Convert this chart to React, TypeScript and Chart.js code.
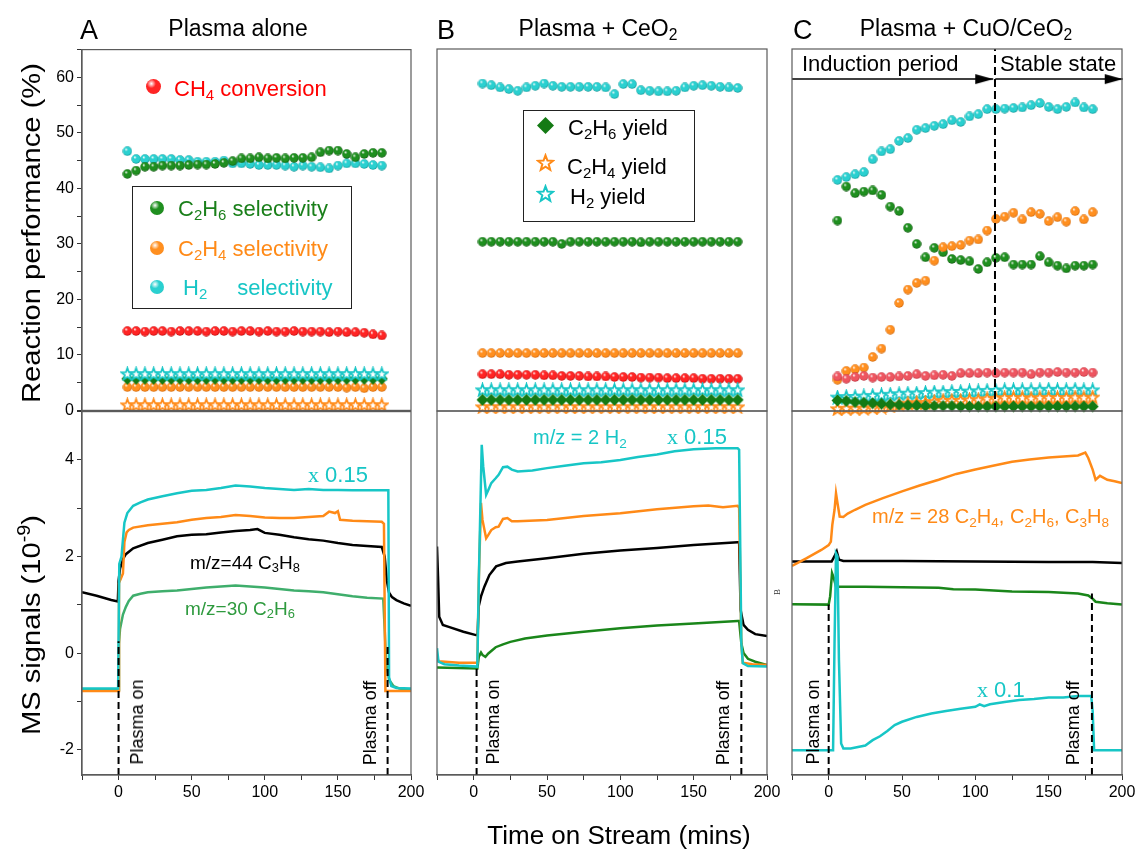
import React, { useEffect, useRef } from 'react';
import { Chart, registerables } from 'chart.js';

Chart.register(...registerables);

const FONT = '"Liberation Sans", Arial, Helvetica, sans-serif';
const SERIF = '"Liberation Serif", "Times New Roman", serif';

// ---------------- axes ----------------
const X_MIN = -25;
const X_MAX = 200;
const X_TICK_LABELS = [0, 50, 100, 150, 200];
const TOP_Y_MIN = 0;
const TOP_Y_MAX = 65;
const TOP_TICK_LABELS = [0, 10, 20, 30, 40, 50, 60];
const MS_Y_MIN = -2.52;
const MS_Y_MAX = 5;
const MS_TICK_LABELS = [-2, 0, 2, 4];

// ---------------- top panels (reaction performance) ----------------
const T_TOP = [6, 12, 18, 24, 30, 36, 42, 48, 54, 60, 66, 72, 78, 84, 90, 96, 102, 108, 114, 120, 126, 132, 138, 144, 150, 156, 162, 168, 174, 180];

// A: plasma alone
const A_CH4_CONV = [14.3, 14.3, 14.2, 14.3, 14.3, 14.2, 14.3, 14.3, 14.3, 14.2, 14.3, 14.3, 14.2, 14.3, 14.3, 14.2, 14.3, 14.2, 14.2, 14.3, 14.2, 14.2, 14.2, 14.1, 14.2, 14.1, 14.1, 14.0, 13.7, 13.5];
const A_H2_SEL = [46.7, 45.3, 45.3, 45.3, 45.3, 45.3, 45.1, 45.1, 44.8, 44.8, 44.8, 45.0, 44.5, 44.5, 44.4, 44.2, 44.2, 44.2, 44.1, 43.9, 44.1, 43.9, 43.8, 43.6, 44.1, 44.5, 44.5, 44.4, 44.2, 44.1];
const A_C2H6_SEL = [42.6, 43.2, 43.9, 43.9, 44.1, 44.1, 44.1, 44.2, 44.3, 44.3, 44.4, 44.6, 44.9, 45.4, 45.4, 45.6, 45.4, 45.5, 45.4, 45.5, 45.5, 45.6, 46.5, 46.8, 46.8, 46.2, 45.6, 46.2, 46.4, 46.4];
const A_C2H4_SEL = [4.2, 4.2, 4.2, 4.2, 4.2, 4.2, 4.2, 4.2, 4.2, 4.2, 4.2, 4.2, 4.2, 4.2, 4.2, 4.2, 4.2, 4.2, 4.2, 4.2, 4.2, 4.2, 4.2, 4.2, 4.2, 4.1, 4.2, 4.0, 4.2, 4.2];
const A_H2_YIELD = [6.6, 6.6, 6.6, 6.6, 6.6, 6.6, 6.6, 6.6, 6.6, 6.6, 6.6, 6.6, 6.6, 6.6, 6.6, 6.6, 6.6, 6.6, 6.6, 6.6, 6.6, 6.6, 6.6, 6.6, 6.6, 6.6, 6.6, 6.6, 6.6, 6.6];
const A_C2H6_YIELD = [5.7, 5.7, 5.7, 5.7, 5.7, 5.7, 5.7, 5.7, 5.7, 5.7, 5.7, 5.7, 5.7, 5.7, 5.7, 5.7, 5.7, 5.7, 5.7, 5.7, 5.7, 5.7, 5.7, 5.7, 5.7, 5.7, 5.7, 5.7, 5.7, 5.7];
const A_C2H4_YIELD = [1.0, 1.0, 1.0, 1.0, 1.0, 1.0, 1.0, 1.0, 1.0, 1.0, 1.0, 1.0, 1.0, 1.0, 1.0, 1.0, 1.0, 1.0, 1.0, 1.0, 1.0, 1.0, 1.0, 1.0, 1.0, 1.0, 1.0, 1.0, 1.0, 1.0];

// B: plasma + CeO2
const B_CH4_CONV = [6.6, 6.6, 6.6, 6.5, 6.5, 6.5, 6.5, 6.4, 6.4, 6.3, 6.3, 6.3, 6.2, 6.2, 6.2, 6.1, 6.1, 6.1, 6.0, 6.0, 6.0, 5.9, 5.9, 5.9, 5.9, 5.8, 5.8, 5.8, 5.8, 5.8];
const B_H2_SEL = [58.8, 58.5, 58.1, 57.8, 57.5, 58.1, 58.4, 58.8, 58.4, 58.2, 58.2, 58.2, 58.2, 58.2, 58.1, 56.9, 58.7, 58.7, 57.6, 57.5, 57.4, 57.4, 57.5, 58.1, 58.4, 58.5, 58.4, 58.2, 58.1, 58.0];
const B_C2H6_SEL = [30.4, 30.4, 30.4, 30.4, 30.4, 30.4, 30.4, 30.4, 30.4, 30.0, 30.4, 30.4, 30.4, 30.4, 30.4, 30.4, 30.4, 30.4, 30.3, 30.4, 30.4, 30.4, 30.4, 30.4, 30.4, 30.4, 30.4, 30.4, 30.4, 30.4];
const B_C2H4_SEL = [10.4, 10.4, 10.4, 10.4, 10.4, 10.4, 10.4, 10.4, 10.4, 10.4, 10.4, 10.4, 10.4, 10.4, 10.4, 10.4, 10.4, 10.4, 10.4, 10.4, 10.4, 10.4, 10.4, 10.4, 10.4, 10.4, 10.4, 10.4, 10.4, 10.4];
const B_H2_YIELD = [3.8, 3.8, 3.8, 3.8, 3.8, 3.8, 3.8, 3.8, 3.8, 3.8, 3.8, 3.8, 3.8, 3.8, 3.8, 3.8, 3.8, 3.8, 3.8, 3.8, 3.8, 3.8, 3.8, 3.8, 3.8, 3.8, 3.8, 3.8, 3.8, 3.8];
const B_C2H6_YIELD = [2.0, 2.0, 2.0, 2.0, 2.0, 2.0, 2.0, 2.0, 2.0, 2.0, 2.0, 2.0, 2.0, 2.0, 2.0, 2.0, 2.0, 2.0, 2.0, 2.0, 2.0, 2.0, 2.0, 2.0, 2.0, 2.0, 2.0, 2.0, 2.0, 2.0];
const B_C2H4_YIELD = [0.75, 0.75, 0.75, 0.75, 0.75, 0.75, 0.75, 0.75, 0.75, 0.75, 0.75, 0.75, 0.75, 0.75, 0.75, 0.75, 0.75, 0.75, 0.75, 0.75, 0.75, 0.75, 0.75, 0.75, 0.75, 0.75, 0.75, 0.75, 0.75, 0.75];

// C: plasma + CuO/CeO2
const C_CH4_CONV = [6.2, 5.8, 6.1, 6.3, 6.0, 6.1, 6.1, 6.2, 6.3, 6.6, 6.3, 6.4, 6.5, 6.3, 6.8, 6.8, 6.8, 6.9, 6.8, 6.9, 6.9, 6.9, 6.6, 6.9, 6.9, 7.0, 6.9, 6.9, 7.0, 6.9];
const C_H2_SEL = [41.5, 42.0, 42.5, 42.9, 45.2, 46.6, 47.0, 48.5, 49.0, 50.5, 50.8, 51.2, 51.5, 52.2, 51.9, 52.9, 53.3, 54.2, 54.2, 54.3, 54.4, 54.5, 54.9, 55.3, 54.6, 54.2, 54.6, 55.4, 54.5, 54.2];
const C_C2H6_SEL = [34.2, 40.3, 39.1, 39.4, 39.6, 38.8, 36.7, 35.9, 32.9, 30.0, 27.6, 29.3, 28.5, 27.3, 27.1, 26.9, 25.5, 26.7, 27.5, 27.6, 26.3, 26.3, 26.3, 27.8, 26.7, 26.1, 25.6, 26.1, 26.1, 26.3];
const C_C2H4_SEL = [5.6, 7.2, 7.5, 7.8, 9.7, 11.2, 14.6, 19.4, 21.8, 23.0, 23.4, 27.0, 29.4, 29.6, 29.8, 30.6, 30.8, 32.4, 34.5, 34.9, 35.6, 34.4, 35.7, 35.4, 34.1, 34.8, 34.0, 35.9, 34.4, 35.7];
const C_H2_YIELD = [2.5, 2.6, 2.6, 2.7, 2.8, 2.9, 3.0, 3.1, 3.2, 3.2, 3.3, 3.4, 3.4, 3.5, 3.5, 3.6, 3.6, 3.7, 3.7, 3.8, 3.8, 3.8, 3.8, 3.8, 3.9, 3.8, 3.8, 3.9, 3.8, 3.8];
const C_C2H4_YIELD = [0.4, 0.5, 0.5, 0.5, 0.6, 0.7, 0.9, 1.2, 1.4, 1.5, 1.5, 1.7, 1.9, 1.9, 1.9, 2.0, 2.0, 2.2, 2.3, 2.4, 2.4, 2.4, 2.3, 2.4, 2.4, 2.4, 2.4, 2.5, 2.4, 2.5];
const C_C2H6_YIELD = [1.9, 1.8, 1.6, 1.5, 1.4, 1.3, 1.2, 1.1, 1.0, 1.0, 0.9, 0.9, 0.9, 0.9, 0.8, 0.8, 0.8, 0.8, 0.8, 0.8, 0.8, 0.8, 0.8, 0.8, 0.8, 0.8, 0.8, 0.8, 0.8, 0.8];

// C: induction / stable separation and arrows
const C_SPLIT_T = 113.4;
const C_ARROW_Y = 59.6;
const C_ARROW1_X = [-25, 112.2];
const C_ARROW2_X = [113.6, 200.5];

// ---------------- bottom panels (MS signals) ----------------
const A_BLACK_T = [-25, -15, -5, -0.5, 0, 1, 3, 5, 10, 20, 30, 40, 50, 60, 70, 80, 90, 95, 100, 110, 120, 130, 140, 150, 160, 170, 180, 182, 183.5, 185, 187, 190, 195, 200];
const A_BLACK = [1.26, 1.19, 1.1, 1.07, 1.5, 1.75, 1.95, 2.05, 2.17, 2.28, 2.35, 2.42, 2.45, 2.46, 2.5, 2.53, 2.55, 2.57, 2.49, 2.45, 2.4, 2.36, 2.33, 2.28, 2.24, 2.22, 2.2, 2.0, 1.5, 1.25, 1.16, 1.1, 1.03, 0.98];
const A_CYAN_T = [-25, -0.3, 0.5, 2, 4, 6, 10, 15, 20, 30, 40, 50, 60, 70, 80, 90, 100, 110, 120, 130, 140, 150, 160, 170, 180, 184.5, 185, 186.5, 190, 200];
const A_CYAN = [-0.73, -0.73, 1.85, 2.0, 2.7, 2.9, 3.05, 3.12, 3.18, 3.25, 3.31, 3.36, 3.38, 3.42, 3.47, 3.45, 3.42, 3.4, 3.38, 3.4, 3.38, 3.38, 3.37, 3.37, 3.37, 3.37, -0.5, -0.68, -0.72, -0.73];
const A_ORANGE_T = [-25, -0.3, 0.3, 3, 4, 5.5, 7, 10, 20, 30, 40, 50, 60, 70, 80, 90, 100, 110, 120, 130, 140, 144, 148, 150, 151.5, 160, 170, 180, 181.5, 182.5, 190, 200];
const A_ORANGE = [-0.78, -0.78, 1.45, 1.65, 2.3, 2.5, 2.55, 2.6, 2.65, 2.68, 2.71, 2.76, 2.8, 2.82, 2.86, 2.84, 2.81, 2.8, 2.8, 2.82, 2.84, 2.93, 2.9, 2.94, 2.76, 2.74, 2.73, 2.72, 2.68, -0.78, -0.78, -0.78];
const A_GREEN_T = [-25, -0.3, 0.3, 1, 3, 5, 7, 10, 15, 20, 30, 40, 50, 60, 70, 80, 90, 100, 110, 120, 130, 140, 150, 160, 170, 181, 182, 183, 185, 188, 192, 200];
const A_GREEN = [-0.76, -0.76, 0.2, 0.5, 0.8, 0.96, 1.08, 1.19, 1.23, 1.26, 1.28, 1.3, 1.33, 1.36, 1.38, 1.4, 1.38, 1.36, 1.33, 1.3, 1.28, 1.26, 1.22, 1.18, 1.15, 1.13, 0.5, -0.2, -0.55, -0.68, -0.73, -0.76];
const A_PLASMA_X = [0, 184];
const A_PLASMA_TOP = [0.25, 0.15];

const B_BLACK_T = [-25, -24.3, -23.5, -21, -17, -7, 1.6, 2.7, 3.4, 5, 7.3, 10.7, 15.3, 22, 30, 50, 75, 100, 125, 150, 180, 181, 182, 184, 187, 192, 200];
const B_BLACK = [2.2, 1.58, 0.75, 0.58, 0.54, 0.44, 0.37, 0.37, 0.96, 1.17, 1.37, 1.61, 1.79, 1.86, 1.89, 1.96, 2.05, 2.12, 2.17, 2.23, 2.29, 2.29, 0.89, 0.58, 0.48, 0.39, 0.35];
const B_CYAN_T = [-25, -24, -20, -10, 2.5, 3.5, 5.5, 6.5, 8.5, 10, 12, 15, 17, 20, 23, 26, 30, 40, 50, 62, 75, 87, 100, 112, 125, 137, 150, 165, 180, 181, 182.5, 183.5, 187, 200];
const B_CYAN = [0.1, -0.18, -0.23, -0.26, -0.28, 1.5, 4.3, 3.86, 3.27, 3.37, 3.51, 3.61, 3.68, 3.84, 3.85, 3.79, 3.75, 3.77, 3.82, 3.87, 3.92, 3.94, 3.99, 4.05, 4.1, 4.17, 4.21, 4.23, 4.23, 4.2, 0.2, -0.21, -0.27, -0.28];
const B_ORANGE_T = [-25, -24, -10, 2.5, 3.5, 5, 6, 8.5, 10, 12, 15, 17, 20, 23, 26, 30, 50, 75, 100, 125, 150, 160, 170, 180, 181, 182.5, 183.5, 190, 200];
const B_ORANGE = [-0.08, -0.17, -0.2, -0.2, 1.5, 3.1, 2.75, 2.37, 2.44, 2.54, 2.6, 2.61, 2.77, 2.79, 2.72, 2.72, 2.75, 2.83, 2.89, 2.97, 3.03, 3.05, 3.01, 3.04, 3.0, 0.2, -0.2, -0.23, -0.25];
const B_GREEN_T = [-25, 2.5, 3.5, 5, 6, 8, 10, 15, 20, 25, 35, 50, 75, 100, 125, 150, 180, 181, 182.5, 184, 187, 192, 200];
const B_GREEN = [-0.3, -0.32, -0.08, 0.01, -0.04, -0.08, -0.01, 0.12, 0.18, 0.23, 0.3, 0.36, 0.44, 0.51, 0.57, 0.61, 0.66, 0.66, 0.2, 0.0, -0.12, -0.18, -0.25];
const B_PLASMA_X = [2, 182.5];
const B_PLASMA_TOP = [-0.3, -0.25];

const C_ORANGE_T = [-25, -15, -5, 0, 1.5, 2.5, 4, 5, 6, 7.5, 10, 13, 18, 25, 37, 50, 62, 75, 87, 100, 112, 125, 137, 150, 160, 170, 175, 177, 180, 182, 185, 190, 195, 200];
const C_ORANGE = [1.8, 1.96, 2.13, 2.23, 2.3, 2.65, 2.96, 3.3, 3.1, 2.82, 2.81, 2.88, 2.96, 3.06, 3.2, 3.34, 3.46, 3.58, 3.7, 3.79, 3.87, 3.95, 4.0, 4.04, 4.06, 4.08, 4.14, 4.03, 3.79, 3.58, 3.66, 3.58, 3.55, 3.51];
const C_BLACK_T = [-25, 2, 4, 5.5, 7, 10, 50, 100, 150, 180, 200];
const C_BLACK = [1.89, 1.89, 2.0, 2.1, 1.93, 1.9, 1.9, 1.89, 1.88, 1.88, 1.86];
const C_GREEN_T = [-25, 0, 1, 2.3, 3.5, 5, 10, 25, 50, 75, 85, 100, 125, 150, 170, 177, 180, 182, 190, 200];
const C_GREEN = [1.01, 1.0, 1.17, 1.65, 1.55, 1.37, 1.37, 1.37, 1.36, 1.35, 1.32, 1.31, 1.27, 1.26, 1.23, 1.19, 1.12, 1.06, 1.03, 1.0];
const C_CYAN_T = [-25, 3, 4, 5, 6, 7, 8.5, 10, 15, 20, 25, 30, 35, 40, 45, 50, 60, 70, 80, 90, 100, 103, 106, 110, 120, 130, 140, 150, 160, 170, 179, 180, 181, 200];
const C_CYAN = [-2.01, -2.01, 0.2, 2.06, 2.0, -0.14, -1.87, -1.97, -1.97, -1.94, -1.91, -1.8, -1.72, -1.61, -1.49, -1.42, -1.32, -1.25, -1.2, -1.15, -1.11, -1.06, -1.1, -1.06, -1.01, -0.97, -0.95, -0.92, -0.92, -0.89, -0.89, -1.2, -2.01, -2.01];
const C_PLASMA_X = [0, 179.5];
const C_PLASMA_TOP = [1.0, 1.23];

// ---------------- colours ----------------
const CYAN = '#17c6c6';
const ORANGE = '#ff8a17';
const GREEN = '#1a861a';
const GREEN_A = '#3fae6c';
const FRAME = '#5a5a5a';
const BALL = {
  red: ['#ff2424', '#a80000'],
  redC: ['#ee5560', '#b02a36'],
  green: ['#1f8f1f', '#0a4a0a'],
  orange: ['#ff8f1f', '#c45a00'],
  cyan: ['#2ad0d0', '#0a8888'],
};

const pts = (xs: number[], ys: number[]) => xs.map((x, i) => ({ x, y: ys[i] }));
const near = (v: number, list: number[]) => list.some((l) => Math.abs(v - l) < 1e-6);

function sphereImg(base: string, dark: string, d = 10) {
  const c = document.createElement('canvas');
  c.width = d;
  c.height = d;
  const g = c.getContext('2d') as CanvasRenderingContext2D;
  const r = d / 2;
  const grad = g.createRadialGradient(r * 0.72, r * 0.62, 0.2, r, r, r);
  grad.addColorStop(0, '#ffffff');
  grad.addColorStop(0.3, base);
  grad.addColorStop(0.75, base);
  grad.addColorStop(1, dark);
  g.fillStyle = grad;
  g.beginPath();
  g.arc(r, r, r - 0.3, 0, Math.PI * 2);
  g.fill();
  return c;
}

function starPath(cx: number, cy: number, R: number) {
  const out: [number, number][] = [];
  for (let i = 0; i < 10; i++) {
    const a = -Math.PI / 2 + (i * Math.PI) / 5;
    const rad = i % 2 === 0 ? R : R * 0.42;
    out.push([cx + Math.cos(a) * rad, cy + Math.sin(a) * rad]);
  }
  return out;
}

function starImg(color: string, d = 15, lw = 1.8) {
  const c = document.createElement('canvas');
  c.width = d;
  c.height = d;
  const g = c.getContext('2d') as CanvasRenderingContext2D;
  const p = starPath(d / 2, d / 2 + 0.6, d / 2 - lw / 2 - 0.3);
  g.beginPath();
  p.forEach(([x, y], i) => (i === 0 ? g.moveTo(x, y) : g.lineTo(x, y)));
  g.closePath();
  g.fillStyle = '#ffffff';
  g.fill();
  g.lineWidth = lw;
  g.strokeStyle = color;
  g.stroke();
  return c;
}

function diamondImg(color: string, d = 13) {
  const c = document.createElement('canvas');
  c.width = d;
  c.height = d;
  const g = c.getContext('2d') as CanvasRenderingContext2D;
  g.beginPath();
  g.moveTo(d / 2, 0.5);
  g.lineTo(d - 0.5, d / 2);
  g.lineTo(d / 2, d - 0.5);
  g.lineTo(0.5, d / 2);
  g.closePath();
  g.fillStyle = color;
  g.fill();
  return c;
}

function arrowImg() {
  const c = document.createElement('canvas');
  c.width = 40;
  c.height = 12;
  const g = c.getContext('2d') as CanvasRenderingContext2D;
  g.beginPath();
  g.moveTo(20, 6);
  g.lineTo(2, 1);
  g.lineTo(2, 11);
  g.closePath();
  g.fillStyle = '#000';
  g.fill();
  return c;
}

const framePlugin = {
  id: 'frameBox',
  afterDatasetsDraw(chart: any) {
    const { ctx, chartArea: a } = chart;
    ctx.save();
    ctx.strokeStyle = FRAME;
    ctx.lineWidth = 1.2;
    ctx.strokeRect(a.left, a.top, a.right - a.left, a.bottom - a.top);
    ctx.restore();
  },
};

// canvas geometry (px) — plot areas: A 82–411, B 437–767, C 792–1122; top 49–411, bottom 411–775
const GEOM = [
  { left: 0, top: 37, w: 431, h: 386, pad: { left: 0, right: 20, top: 12, bottom: 12 }, showX: false, showY: true, top_: true },
  { left: 0, top: 399, w: 431, h: 418, pad: { left: 0, right: 20, top: 12, bottom: 12 }, showX: true, showY: true, top_: false },
  { left: 417, top: 37, w: 370, h: 386, pad: { left: 20, right: 20, top: 12, bottom: 12 }, showX: false, showY: false, top_: true },
  { left: 417, top: 399, w: 370, h: 418, pad: { left: 20, right: 20, top: 12, bottom: 12 }, showX: true, showY: false, top_: false },
  { left: 772, top: 37, w: 370, h: 386, pad: { left: 20, right: 20, top: 12, bottom: 12 }, showX: false, showY: false, top_: true },
  { left: 772, top: 399, w: 370, h: 418, pad: { left: 20, right: 20, top: 12, bottom: 12 }, showX: true, showY: false, top_: false },
];

const tickFont = { family: FONT, size: 16 };

function buildOptions(g: any) {
  return {
    responsive: false,
    animation: false,
    devicePixelRatio: 1,
    events: [],
    layout: { padding: g.pad },
    plugins: { legend: { display: false }, tooltip: { enabled: false } },
    scales: {
      x: {
        type: 'linear',
        min: X_MIN,
        max: X_MAX,
        display: g.showX,
        afterFit: (s: any) => {
          s.height = g.showX ? 30 : 0;
        },
        ticks: {
          stepSize: 25,
          autoSkip: false,
          maxRotation: 0,
          includeBounds: false,
          color: '#000',
          font: tickFont,
          padding: 3,
          callback: (v: any) => (near(Number(v), X_TICK_LABELS) ? String(Math.round(Number(v))) : ''),
        },
        grid: { display: true, drawOnChartArea: false, drawTicks: true, tickLength: 5, tickColor: '#333', tickWidth: 1 },
        border: { display: true, color: FRAME, width: 1.2 },
      },
      y: {
        type: 'linear',
        min: g.top_ ? TOP_Y_MIN : MS_Y_MIN,
        max: g.top_ ? TOP_Y_MAX : MS_Y_MAX,
        display: g.showY,
        afterFit: (s: any) => {
          s.width = g.showY ? 82 : 0;
        },
        ticks: {
          stepSize: g.top_ ? 5 : 1,
          autoSkip: false,
          includeBounds: false,
          color: '#000',
          font: tickFont,
          padding: 3,
          callback: (v: any) => {
            const n = Number(v);
            const list = g.top_ ? TOP_TICK_LABELS : MS_TICK_LABELS;
            return near(n, list) ? String(Math.round(n)) : '';
          },
        },
        grid: { display: true, drawOnChartArea: false, drawTicks: true, tickLength: 5, tickColor: '#333', tickWidth: 1 },
        border: { display: true, color: FRAME, width: 1.2 },
      },
    },
  };
}

function markers(xs: number[], ys: number[], img: HTMLCanvasElement) {
  return { data: pts(xs, ys), showLine: false, pointStyle: img, pointRadius: 5, clip: false };
}
function line(xs: number[], ys: number[], color: string, w = 2.5) {
  return { data: pts(xs, ys), showLine: true, borderColor: color, borderWidth: w, pointRadius: 0, tension: 0, fill: false };
}
function plasmaLines(xs: number[], tops: number[]) {
  return xs.map((x, i) => ({
    data: [
      { x, y: MS_Y_MIN },
      { x, y: tops[i] },
    ],
    showLine: true,
    borderColor: '#000',
    borderWidth: 2,
    borderDash: [7, 4],
    pointRadius: 0,
  }));
}

// ---------------- HTML text helpers ----------------
const Sub = ({ children }: any) => (
  <sub style={{ fontSize: '0.68em', verticalAlign: '-0.28em', lineHeight: 0 }}>{children}</sub>
);

const Txt = ({ x, y, s = 20, c = '#000', a = 'left', r = 0, f = FONT, sx = 1, children }: any) => {
  const tx = a === 'left' ? '0' : a === 'center' ? '-50%' : '-100%';
  return (
    <div
      style={{
        position: 'absolute',
        left: x,
        top: y,
        transform: `translate(${tx}, -50%) rotate(${r}deg) scaleX(${sx})`,
        fontSize: s,
        color: c,
        fontFamily: f,
        whiteSpace: 'nowrap',
        lineHeight: 1,
      }}
    >
      {children}
    </div>
  );
};

const Ball = ({ x, y, d, col }: any) => (
  <div
    style={{
      position: 'absolute',
      left: x - d / 2,
      top: y - d / 2,
      width: d,
      height: d,
      borderRadius: '50%',
      background: `radial-gradient(circle at 36% 31%, #ffffff 0%, ${col[0]} 32%, ${col[0]} 70%, ${col[1]} 100%)`,
    }}
  />
);

const StarIcon = ({ x, y, d, color }: any) => {
  const p = starPath(d / 2, d / 2 + 0.8, d / 2 - 1.5)
    .map(([a, b]) => `${a.toFixed(2)},${b.toFixed(2)}`)
    .join(' ');
  return (
    <svg style={{ position: 'absolute', left: x - d / 2, top: y - d / 2 }} width={d} height={d}>
      <polygon points={p} fill="#fff" stroke={color} strokeWidth={2} />
    </svg>
  );
};

const DiamondIcon = ({ x, y, d, color }: any) => (
  <svg style={{ position: 'absolute', left: x - d / 2, top: y - d / 2 }} width={d} height={d}>
    <polygon points={`${d / 2},0 ${d},${d / 2} ${d / 2},${d} 0,${d / 2}`} fill={color} />
  </svg>
);

const X015 = () => (
  <span>
    <span style={{ fontFamily: SERIF }}>x</span> 0.15
  </span>
);

export default function App() {
  const refs = useRef<(HTMLCanvasElement | null)[]>([]);

  useEffect(() => {
    const red = sphereImg(BALL.red[0], BALL.red[1]);
    const redC = sphereImg(BALL.redC[0], BALL.redC[1]);
    const grn = sphereImg(BALL.green[0], BALL.green[1]);
    const org = sphereImg(BALL.orange[0], BALL.orange[1]);
    const cyn = sphereImg(BALL.cyan[0], BALL.cyan[1]);
    const starC = starImg(CYAN);
    const starO = starImg(ORANGE);
    const dia = diamondImg('#147a14');
    const arrow = arrowImg();

    const arrowLine = (xs: number[]) => ({
      data: pts(xs, [C_ARROW_Y, C_ARROW_Y]),
      showLine: true,
      borderColor: '#000',
      borderWidth: 1.5,
      pointStyle: (ctx: any) => (ctx.dataIndex === 1 ? arrow : 'circle'),
      pointRadius: (ctx: any) => (ctx.dataIndex === 1 ? 5 : 0),
      clip: false,
    });

    const sets = [
      // A top
      [
        markers(T_TOP, A_H2_YIELD, starC),
        markers(T_TOP, A_C2H6_YIELD, dia),
        markers(T_TOP, A_C2H4_SEL, org),
        markers(T_TOP, A_C2H4_YIELD, starO),
        markers(T_TOP, A_CH4_CONV, red),
        markers(T_TOP, A_C2H6_SEL, grn),
        markers(T_TOP, A_H2_SEL, cyn),
      ],
      // A bottom
      [
        ...plasmaLines(A_PLASMA_X, A_PLASMA_TOP),
        line(A_CYAN_T, A_CYAN, CYAN),
        line(A_ORANGE_T, A_ORANGE, ORANGE),
        line(A_GREEN_T, A_GREEN, GREEN_A),
        line(A_BLACK_T, A_BLACK, '#000'),
      ],
      // B top
      [
        markers(T_TOP, B_C2H6_YIELD, dia),
        markers(T_TOP, B_C2H4_YIELD, starO),
        markers(T_TOP, B_H2_YIELD, starC),
        markers(T_TOP, B_CH4_CONV, red),
        markers(T_TOP, B_C2H4_SEL, org),
        markers(T_TOP, B_C2H6_SEL, grn),
        markers(T_TOP, B_H2_SEL, cyn),
      ],
      // B bottom
      [
        ...plasmaLines(B_PLASMA_X, B_PLASMA_TOP),
        line(B_CYAN_T, B_CYAN, CYAN),
        line(B_ORANGE_T, B_ORANGE, ORANGE),
        line(B_BLACK_T, B_BLACK, '#000'),
        line(B_GREEN_T, B_GREEN, GREEN),
      ],
      // C top
      [
        arrowLine(C_ARROW1_X),
        arrowLine(C_ARROW2_X),
        {
          data: [
            { x: C_SPLIT_T, y: TOP_Y_MIN },
            { x: C_SPLIT_T, y: TOP_Y_MAX },
          ],
          showLine: true,
          borderColor: '#000',
          borderWidth: 2,
          borderDash: [8, 4],
          pointRadius: 0,
        },
        markers(T_TOP, C_C2H6_YIELD, dia),
        markers(T_TOP, C_C2H4_YIELD, starO),
        markers(T_TOP, C_H2_YIELD, starC),
        markers(T_TOP, C_CH4_CONV, redC),
        markers(T_TOP, C_C2H4_SEL, org),
        markers(T_TOP, C_C2H6_SEL, grn),
        markers(T_TOP, C_H2_SEL, cyn),
      ],
      // C bottom
      [
        ...plasmaLines(C_PLASMA_X, C_PLASMA_TOP),
        line(C_CYAN_T, C_CYAN, CYAN),
        line(C_ORANGE_T, C_ORANGE, ORANGE),
        line(C_BLACK_T, C_BLACK, '#000'),
        line(C_GREEN_T, C_GREEN, GREEN),
      ],
    ];

    const charts = GEOM.map((g, i) => {
      const cv = refs.current[i] as HTMLCanvasElement;
      return new Chart(cv, {
        type: 'scatter',
        data: { datasets: sets[i] as any },
        options: buildOptions(g) as any,
        plugins: [framePlugin],
      });
    });
    return () => charts.forEach((c) => c.destroy());
  }, []);

  return (
    <div
      style={{
        position: 'absolute',
        left: 0,
        top: 0,
        width: 1136,
        height: 851,
        overflow: 'hidden',
        background: '#fff',
        fontFamily: FONT,
      }}
    >
      {GEOM.map((g, i) => (
        <canvas
          key={i}
          ref={(el) => {
            refs.current[i] = el;
          }}
          width={g.w}
          height={g.h}
          style={{ position: 'absolute', left: g.left, top: g.top, width: g.w, height: g.h }}
        />
      ))}

      {/* panel headings */}
      <Txt x={80} y={30} s={27}>A</Txt>
      <Txt x={238} y={28} s={23} a="center">Plasma alone</Txt>
      <Txt x={437} y={30} s={27}>B</Txt>
      <Txt x={598} y={28} s={23} a="center">
        Plasma + CeO<Sub>2</Sub>
      </Txt>
      <Txt x={793} y={30} s={27}>C</Txt>
      <Txt x={966} y={28} s={23} a="center">
        Plasma + CuO/CeO<Sub>2</Sub>
      </Txt>

      {/* axis titles */}
      <Txt x={31} y={233} s={26} a="center" r={-90} sx={1.12}>
        Reaction performance (%)
      </Txt>
      <Txt x={31} y={625} s={26} a="center" r={-90} sx={1.12}>
        MS signals (10<sup style={{ fontSize: '0.68em', verticalAlign: '0.55em', lineHeight: 0 }}>-9</sup>)
      </Txt>
      <Txt x={619} y={835} s={26} a="center">
        Time on Stream (mins)
      </Txt>

      {/* legend A */}
      <Ball x={153} y={86} d={15} col={BALL.red} />
      <Txt x={174} y={89} s={22} c="#ff0000">
        CH<Sub>4</Sub> conversion
      </Txt>
      <div style={{ position: 'absolute', left: 132, top: 186, width: 218, height: 121, border: '1px solid #222' }} />
      <Ball x={157} y={208} d={14} col={BALL.green} />
      <Txt x={178} y={209} s={22} c="#1a7f1a">
        C<Sub>2</Sub>H<Sub>6</Sub> selectivity
      </Txt>
      <Ball x={157} y={248} d={14} col={BALL.orange} />
      <Txt x={178} y={249} s={22} c={ORANGE}>
        C<Sub>2</Sub>H<Sub>4</Sub> selectivity
      </Txt>
      <Ball x={157} y={287} d={14} col={BALL.cyan} />
      <Txt x={183} y={288} s={22} c={CYAN}>
        H<Sub>2</Sub>
        <span style={{ marginLeft: 30 }}>selectivity</span>
      </Txt>

      {/* legend B */}
      <div style={{ position: 'absolute', left: 523, top: 110, width: 170, height: 110, border: '1px solid #222' }} />
      <DiamondIcon x={545} y={125} d={17} color="#147a14" />
      <Txt x={568} y={128} s={22}>
        C<Sub>2</Sub>H<Sub>6</Sub> yield
      </Txt>
      <StarIcon x={545} y={162} d={19} color={ORANGE} />
      <Txt x={567} y={167} s={22}>
        C<Sub>2</Sub>H<Sub>4</Sub> yield
      </Txt>
      <StarIcon x={545} y={193} d={19} color={CYAN} />
      <Txt x={570} y={197} s={22}>
        H<Sub>2</Sub> yield
      </Txt>

      {/* C top annotations */}
      <Txt x={802} y={64} s={22}>Induction period</Txt>
      <Txt x={1000} y={64} s={22}>Stable state</Txt>

      {/* A bottom annotations */}
      <Txt x={308} y={475} s={22} c={CYAN}>
        <X015 />
      </Txt>
      <Txt x={190} y={562} s={19}>
        m/z=44 C<Sub>3</Sub>H<Sub>8</Sub>
      </Txt>
      <Txt x={185} y={608} s={19} c="#2e9a3e">
        m/z=30 C<Sub>2</Sub>H<Sub>6</Sub>
      </Txt>
      <Txt x={137} y={722} s={18} a="center" r={-90}>Plasma on</Txt>
      <Txt x={370} y={723} s={18} a="center" r={-90}>Plasma off</Txt>

      {/* B bottom annotations */}
      <Txt x={533} y={437} s={20} c={CYAN}>
        m/z = 2 H<Sub>2</Sub>
      </Txt>
      <Txt x={667} y={437} s={22} c={CYAN}>
        <X015 />
      </Txt>
      <Txt x={493} y={722} s={18} a="center" r={-90}>Plasma on</Txt>
      <Txt x={723} y={723} s={18} a="center" r={-90}>Plasma off</Txt>

      {/* C bottom annotations */}
      <Txt x={872} y={516} s={20} c={ORANGE}>
        m/z = 28 C<Sub>2</Sub>H<Sub>4</Sub>, C<Sub>2</Sub>H<Sub>6</Sub>, C<Sub>3</Sub>H<Sub>8</Sub>
      </Txt>
      <Txt x={977} y={690} s={22} c={CYAN}>
        <span style={{ fontFamily: SERIF }}>x</span> 0.1
      </Txt>
      <Txt x={813} y={722} s={18} a="center" r={-90}>Plasma on</Txt>
      <Txt x={1073} y={723} s={18} a="center" r={-90}>Plasma off</Txt>
      <Txt x={777} y={592} s={9} a="center" r={-90} f={SERIF} c="#333">B</Txt>
    </div>
  );
}
